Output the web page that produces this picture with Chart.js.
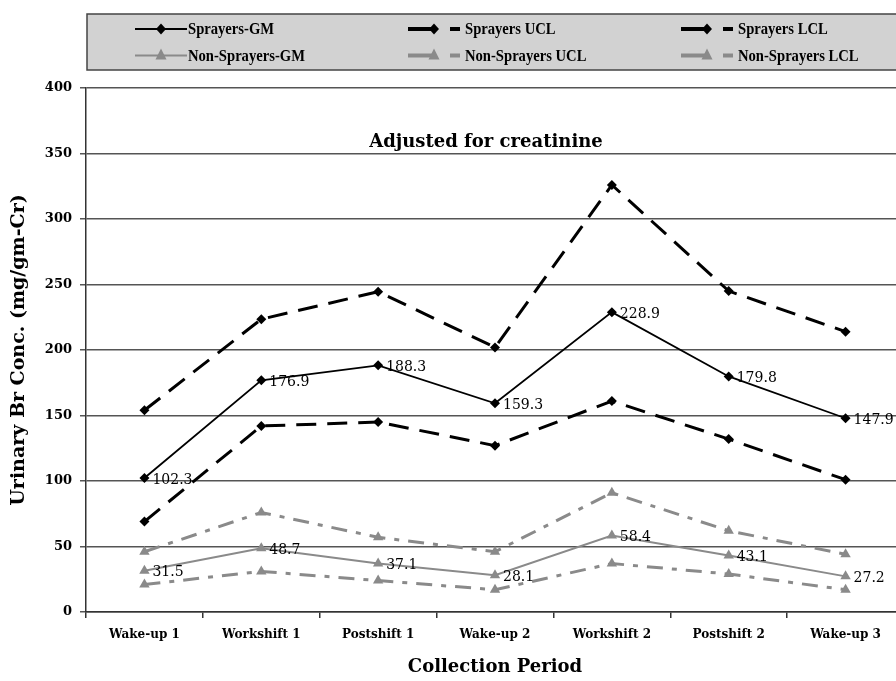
<!DOCTYPE html>
<html>
<head>
<meta charset="utf-8">
<script src="https://cdn.jsdelivr.net/npm/chart.js@4.4.1/dist/chart.umd.min.js"></script>
<style>
  html, body { margin: 0; padding: 0; background: #fff; overflow: hidden; }
  .wrap { width: 896px; height: 681px; overflow: hidden; position: relative; }
  .box { width: 910px; height: 681px; }
</style>
</head>
<body>
<div class="wrap"><div class="box"><canvas id="myChart"></canvas></div></div>
<script>
// Collection periods
const categories = ["Wake-up 1", "Workshift 1", "Postshift 1", "Wake-up 2", "Workshift 2", "Postshift 2", "Wake-up 3"];

// Sprayers
const sprayersGM = [102.3, 176.9, 188.3, 159.3, 228.9, 179.8, 147.9];
const sprayersUCL = [154, 223.5, 244.5, 202, 326, 245, 214];
const sprayersLCL = [69, 142, 145, 127, 161, 132, 101];

// Non-Sprayers
const nonSprayersGM = [31.5, 48.7, 37.1, 28.1, 58.4, 43.1, 27.2];
const nonSprayersUCL = [46, 76, 57, 46, 91, 62, 44];
const nonSprayersLCL = [21, 31, 24, 17, 37, 29, 17];

// Y axis
const yTicks = [0, 50, 100, 150, 200, 250, 300, 350, 400];

const chartTitle = "Adjusted for creatinine";
const yTitle = "Urinary Br Conc. (mg/gm-Cr)";
const xTitle = "Collection Period";

const serif = "'DejaVu Serif', serif";
const gray = "#8a8a8a";

const legendItems = [
  { label: "Sprayers-GM", color: "#000", marker: "diamond", dashed: false, col: 0, row: 0 },
  { label: "Sprayers UCL", color: "#000", marker: "diamond", dashed: true, col: 1, row: 0 },
  { label: "Sprayers LCL", color: "#000", marker: "diamond", dashed: true, col: 2, row: 0 },
  { label: "Non-Sprayers-GM", color: gray, marker: "triangle", dashed: false, col: 0, row: 1 },
  { label: "Non-Sprayers UCL", color: gray, marker: "triangle", dashed: true, col: 1, row: 1 },
  { label: "Non-Sprayers LCL", color: gray, marker: "triangle", dashed: true, col: 2, row: 1 }
];

const drawMarker = (ctx, type, x, y, color) => {
  ctx.fillStyle = color;
  ctx.beginPath();
  if (type === "diamond") {
    ctx.moveTo(x, y - 5.5); ctx.lineTo(x + 5, y); ctx.lineTo(x, y + 5.5); ctx.lineTo(x - 5, y);
  } else {
    ctx.moveTo(x, y - 7); ctx.lineTo(x + 5.5, y + 4); ctx.lineTo(x - 5.5, y + 4);
  }
  ctx.closePath();
  ctx.fill();
};

// legend box at the top
const legendPlugin = {
  id: "boxLegend",
  afterDraw(chart) {
    const ctx = chart.ctx;
    ctx.save();
    ctx.fillStyle = "#d2d2d2";
    ctx.fillRect(87, 14, 850, 56);
    ctx.strokeStyle = "#444";
    ctx.lineWidth = 1.5;
    ctx.strokeRect(87, 14, 850, 56);
    const colX = [135, 408, 681];
    const rowY = [29, 55.5];
    legendItems.forEach((item) => {
      const x = colX[item.col];
      const y = rowY[item.row];
      ctx.strokeStyle = item.color;
      let textX;
      if (!item.dashed) {
        ctx.lineWidth = 2;
        ctx.beginPath(); ctx.moveTo(x, y); ctx.lineTo(x + 52, y); ctx.stroke();
        drawMarker(ctx, item.marker, x + 26, y, item.color);
        textX = x + 53;
      } else {
        ctx.lineWidth = 4;
        ctx.beginPath(); ctx.moveTo(x, y); ctx.lineTo(x + 24, y); ctx.stroke();
        drawMarker(ctx, item.marker, x + 26, y, item.color);
        ctx.beginPath(); ctx.moveTo(x + 42, y); ctx.lineTo(x + 52, y); ctx.stroke();
        textX = x + 57;
      }
      ctx.save();
      ctx.translate(textX, y + 1);
      ctx.scale(0.86, 1);
      ctx.fillStyle = "#000";
      ctx.font = "bold 17px 'Liberation Serif', serif";
      ctx.textBaseline = "middle";
      ctx.textAlign = "left";
      ctx.fillText(item.label, 0, 0);
      ctx.restore();
    });
    // chart title
    ctx.fillStyle = "#000";
    ctx.font = "bold 18px " + serif;
    ctx.textAlign = "center";
    ctx.textBaseline = "middle";
    ctx.fillText(chartTitle, 486, 142);
    ctx.restore();
  }
};

// value labels next to the GM points
const valueLabels = {
  id: "valueLabels",
  afterDatasetsDraw(chart) {
    const ctx = chart.ctx;
    ctx.save();
    ctx.fillStyle = "#000";
    ctx.font = "14px " + serif;
    ctx.textBaseline = "middle";
    ctx.textAlign = "left";
    chart.data.datasets.forEach((ds, i) => {
      if (!ds.showValues) return;
      chart.getDatasetMeta(i).data.forEach((pt, j) => {
        ctx.fillText(ds.data[j].toFixed(1), pt.x + 8, pt.y + 2);
      });
    });
    ctx.restore();
  }
};

const ctx = document.getElementById("myChart").getContext("2d");
const myChart = new Chart(ctx, {
  type: "line",
  data: {
    labels: categories,
    datasets: [
      { label: "Non-Sprayers UCL", data: nonSprayersUCL, borderColor: gray, backgroundColor: gray, borderWidth: 3, borderDash: [16, 9, 5, 9], pointStyle: "triangle", pointRadius: 6, pointBorderWidth: 0 },
      { label: "Non-Sprayers LCL", data: nonSprayersLCL, borderColor: gray, backgroundColor: gray, borderWidth: 3, borderDash: [16, 9, 5, 9], pointStyle: "triangle", pointRadius: 6, pointBorderWidth: 0 },
      { label: "Non-Sprayers-GM", data: nonSprayersGM, borderColor: gray, backgroundColor: gray, borderWidth: 2, pointStyle: "triangle", pointRadius: 6, pointBorderWidth: 0, showValues: true },
      { label: "Sprayers UCL", data: sprayersUCL, borderColor: "#000", backgroundColor: "#000", borderWidth: 3, borderDash: [20, 11], pointStyle: "rectRot", pointRadius: 5, pointBorderWidth: 0 },
      { label: "Sprayers LCL", data: sprayersLCL, borderColor: "#000", backgroundColor: "#000", borderWidth: 3, borderDash: [20, 11], pointStyle: "rectRot", pointRadius: 5, pointBorderWidth: 0 },
      { label: "Sprayers-GM", data: sprayersGM, borderColor: "#000", backgroundColor: "#000", borderWidth: 1.8, pointStyle: "rectRot", pointRadius: 5, pointBorderWidth: 0, showValues: true }
    ]
  },
  options: {
    responsive: true,
    maintainAspectRatio: false,
    animation: false,
    layout: { padding: { top: 88, right: 4, left: 0, bottom: 0 } },
    plugins: {
      legend: { display: false },
      tooltip: { enabled: false }
    },
    scales: {
      x: {
        offset: true,
        afterFit: (scale) => { scale.height = 69; },
        grid: { offset: true, drawOnChartArea: false, tickLength: 6, color: "#333", lineWidth: 1.5 },
        border: { color: "#333", width: 1.5 },
        ticks: { color: "#000", font: { family: serif, size: 12, weight: "bold" }, padding: 10, maxRotation: 0 },
        title: { display: true, text: xTitle, color: "#000", font: { family: serif, size: 18, weight: "bold" }, padding: { top: 4, bottom: 3 } }
      },
      y: {
        min: 0,
        max: 400,
        afterFit: (scale) => { scale.width = 86; },
        afterBuildTicks: (scale) => { scale.ticks = yTicks.map((v) => ({ value: v })); },
        grid: { color: "#555", lineWidth: 1.5, tickLength: 6 },
        border: { color: "#333", width: 1.5 },
        ticks: { color: "#000", font: { family: serif, size: 13, weight: "bold" }, padding: 8 },
        title: { display: true, text: yTitle, color: "#000", font: { family: serif, size: 19, weight: "bold" }, padding: { top: 8, bottom: 0 } }
      }
    }
  },
  plugins: [legendPlugin, valueLabels]
});
</script>
</body>
</html>
